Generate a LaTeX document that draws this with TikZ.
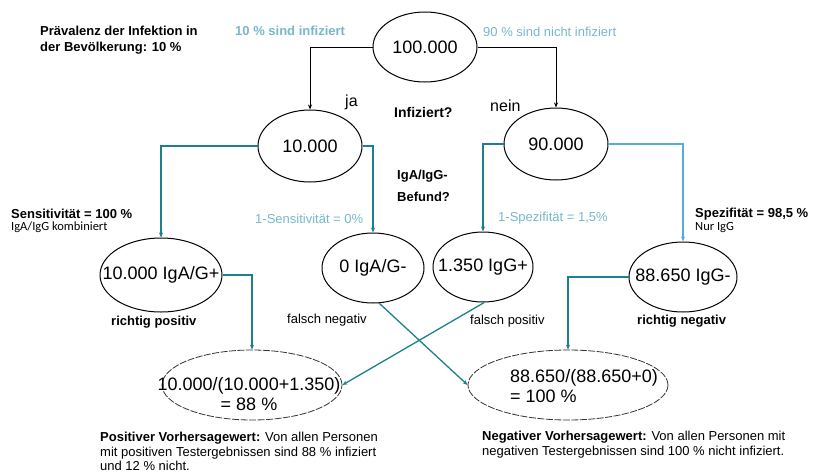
\documentclass[tikz,border=0pt]{standalone}
\usepackage{fontspec}
\setmainfont{Liberation Sans}
\newfontfamily\calfont{Carlito}
\usepackage{tikz}
\usetikzlibrary{shapes.geometric,arrows.meta}

\definecolor{tealline}{RGB}{28,128,142}
\definecolor{skyline}{RGB}{84,172,222}
\definecolor{hintcol}{RGB}{118,184,202}

\newcommand{\zw}[1]{\makebox[0pt]{#1}}

\tikzset{
	bubble/.style={ellipse, draw=black, line width=1pt, inner sep=0pt,
		font=\fontsize{18}{19}\selectfont},
	probe/.style={bubble, dash pattern=on 7pt off 1.5pt, line width=0.8pt, draw=black!80},
	numtext/.style={font=\fontsize{18}{20}\selectfont, inner sep=0pt},
	lbl/.style={font=\fontsize{13}{16}\selectfont, inner sep=0pt, anchor=base west},
	boldlbl/.style={lbl, font=\fontsize{13}{16}\selectfont\bfseries},
	hint/.style={lbl, text=hintcol},
	small/.style={lbl, font=\fontsize{12.5}{14}\selectfont\calfont},
	trunk/.style={draw=black, line width=1pt, -{Stealth[length=5pt,width=4pt]}},
	branch/.style={draw=tealline, line width=1.3pt, -{Stealth[length=5pt,width=4pt]}},
}

\begin{document}
\begin{tikzpicture}[x=1pt, y=-1pt]

% frame %{{{2

	\useasboundingbox (0,0) rectangle (813,474);

% population %{{{2

	\node[bubble, minimum width=104, minimum height=70] (root) at (425,47) {\zw{100.000}};
	\node[bubble, minimum width=104, minimum height=72] (inf)  at (310,146) {\zw{10.000}};
	\node[bubble, minimum width=104, minimum height=72] (ninf) at (556,144) {\zw{90.000}};

% test results %{{{2

	\node[bubble, minimum width=122, minimum height=74] (tpos) at (161,275) {\zw{10.000 IgA/G+}};
	\node[bubble, minimum width=102, minimum height=70] (fneg) at (373,268) {\zw{0 IgA/G-}};
	\node[bubble, minimum width=100, minimum height=70] (fpos) at (483,267) {\zw{1.350 IgG+}};
	\node[bubble, minimum width=108, minimum height=70] (tneg) at (683,277) {\zw{88.650 IgG-}};

% predictive values %{{{2

	\node[probe, minimum width=180, minimum height=70] (ppv) at (252,385) {};
	\node[probe, minimum width=200, minimum height=70] (npv) at (568,385) {};

	\node[numtext, align=center, anchor=north] (ppvtxt) at (249,377)
		{10.000/(10.000+1.350)\\= 88 \%};
	\node[numtext, align=left, anchor=north west] (npvtxt) at (510,369)
		{88.650/(88.650+0)\\= 100 \%};

% connectors %{{{2

	\draw[trunk] (root.west) -| (inf.north);
	\draw[trunk] (root.east) -| (ninf.north);

	\draw[branch] (inf.west) -| (tpos.north);
	\draw[branch] (inf.east) -| (fneg.north);
	\draw[branch] (ninf.west) -| (fpos.north);
	\draw[branch, draw=skyline] (ninf.east) -| (tneg.north);

	\draw[branch] (tpos.east) -| (ppv.north);
	\draw[branch] (tneg.west) -| (npv.north);
	\draw[branch] (fneg.-80) -- (npv.west);
	\draw[branch] (fpos.-88) -- (ppv.east);

% labels %{{{2

	\node[boldlbl, align=left, anchor=north west] (prev) at (40,26)
		{Prävalenz der Infektion in\\der Bevölkerung: 10 \%};

	\node[hint, font=\fontsize{13}{16}\selectfont\bfseries] (yeslbl) at (235,35) {10 \% sind infiziert};
	\node[hint] (nolbl) at (483,36) {90 \% sind nicht infiziert};

	\node[lbl, font=\fontsize{16}{18}\selectfont] (ja) at (345,106) {ja};
	\node[lbl, font=\fontsize{16}{18}\selectfont] (nein) at (490,111) {nein};
	\node[boldlbl, font=\fontsize{14}{16}\selectfont\bfseries] (infq) at (394,117) {Infiziert?};

	\node[boldlbl, align=left, anchor=north west, font=\fontsize{13}{22}\selectfont\bfseries]
		(befund) at (397,170) {IgA/IgG-\\Befund?};

	\node[boldlbl] (sens) at (11,218) {Sensitivität = 100 \%};
	\node[small] (sensnote) at (11,230) {IgA/IgG kombiniert};
	\node[hint] (sensm) at (255,223) {1-Sensitivität = 0\%};

	\node[hint] (spezm) at (498,221) {1-Spezifität = 1,5\%};
	\node[boldlbl] (spez) at (695,217) {Spezifität = 98,5 \%};
	\node[small] (speznote) at (695,230) {Nur IgG};

	\node[boldlbl] (tposlbl) at (111,325) {richtig positiv};
	\node[lbl] (fneglbl) at (287,323) {falsch negativ};
	\node[lbl] (fposlbl) at (470,324) {falsch positiv};
	\node[boldlbl] (tneglbl) at (637,324) {richtig negativ};

% explanations %{{{2

	\node[lbl, align=left, anchor=north west, font=\fontsize{13}{14.5}\selectfont]
		(ppvnote) at (100,432)
		{\textbf{Positiver Vorhersagewert:} Von allen Personen\\
		mit positiven Testergebnissen sind 88 \% infiziert\\
		und 12 \% nicht.};
	\node[lbl, align=left, anchor=north west, font=\fontsize{13}{14.5}\selectfont]
		(npvnote) at (482,431)
		{\textbf{Negativer Vorhersagewert:} Von allen Personen mit\\
		negativen Testergebnissen sind 100 \% nicht infiziert.};

% closing %{{{2

\end{tikzpicture}
\end{document}
